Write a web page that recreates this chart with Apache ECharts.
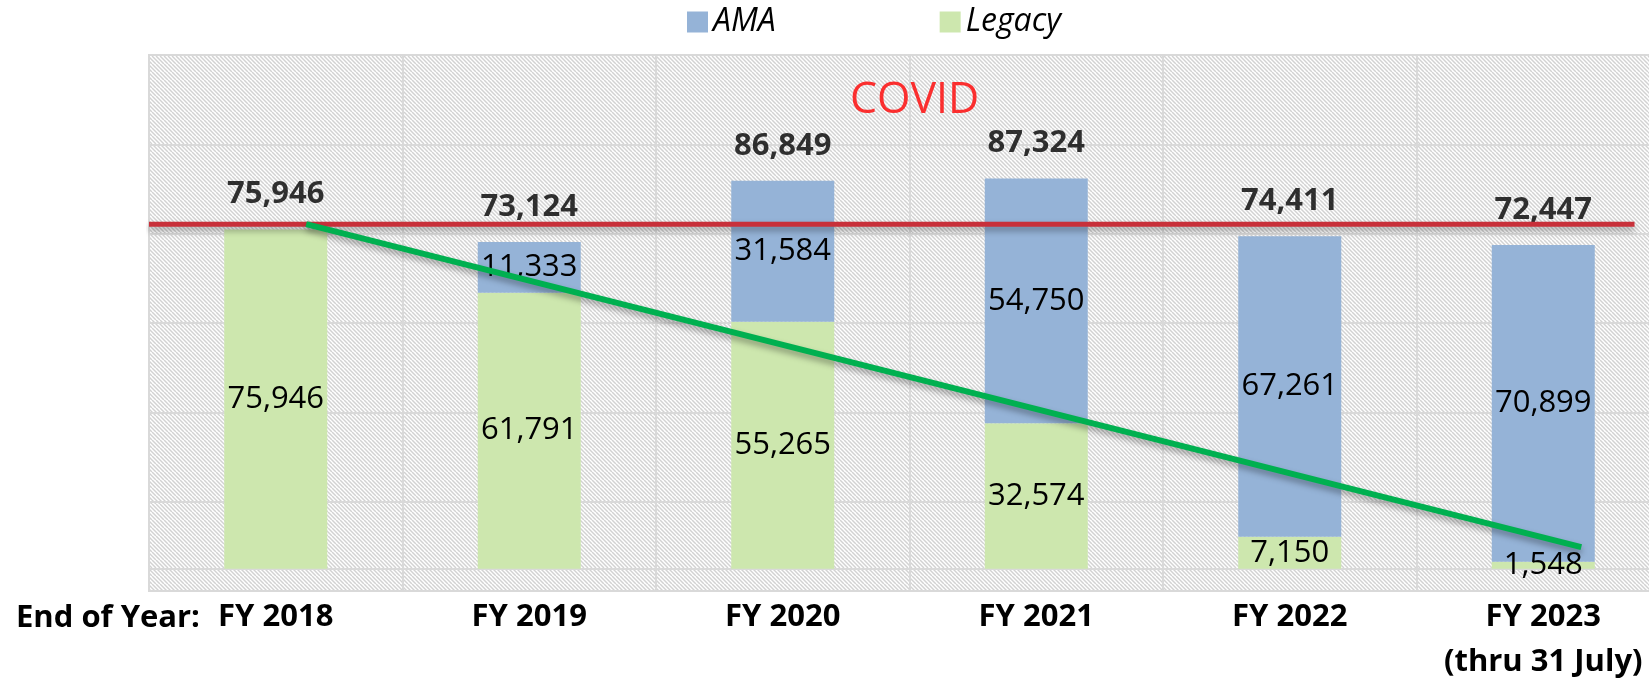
<!DOCTYPE html>
<html>
<head>
<meta charset="utf-8">
<script src="https://cdn.jsdelivr.net/npm/echarts@6/dist/echarts.min.js"></script>
<style>
  html, body { margin: 0; padding: 0; background: #ffffff; overflow: hidden; }
  /* the plot runs past the right edge of the picture, as in the original */
  #chart { width: 1670px; height: 682px; }
</style>
</head>
<body>
<div id="chart"></div>
<script>
const years = ['FY 2018', 'FY 2019', 'FY 2020', 'FY 2021', 'FY 2022', 'FY 2023\n(thru 31 July)'];
const legacy = [75946, 61791, 55265, 32574, 7150, 1548];
const ama = [0, 11333, 31584, 54750, 67261, 70899];
const totals = legacy.map((v, i) => v + ama[i]);
// reference level (red) and the drawn trend (green), on a 0..5 category scale
const covidLevel = [[-0.5, 77100], [5.36, 77100]];
const trend = [[0.12, 77140], [5.15, 4830]];
const covidNote = [[2.52, 104800]];

// diagonal hatch for the plot background
function hatch() {
  const c = document.createElement('canvas');
  c.width = 8; c.height = 8;
  const g = c.getContext('2d');
  g.fillStyle = '#ffffff';
  g.fillRect(0, 0, 8, 8);
  g.strokeStyle = '#d2d2d2';
  g.lineWidth = 1.5;
  for (let k = -8; k <= 8; k += 4) {
    g.beginPath();
    g.moveTo(k, 0);
    g.lineTo(k + 8, 8);
    g.stroke();
  }
  return c;
}

const font = "'Open Sans', 'Noto Sans', sans-serif";
const chart = echarts.init(document.getElementById('chart'), null, { renderer: 'canvas' });

chart.setOption({
  animation: false,
  title: {
    text: 'End of Year:',
    left: 16,
    top: 603,
    padding: 0,
    textStyle: { fontFamily: font, fontSize: 31, fontWeight: 'bold', color: '#000' }
  },
  legend: {
    data: ['AMA', 'Legacy'],
    left: 682,
    top: 1,
    icon: 'rect',
    itemWidth: 21,
    itemHeight: 21,
    itemGap: 164,
    textStyle: { fontFamily: font, fontSize: 32, fontStyle: 'italic', color: '#000' }
  },
  grid: {
    left: 149,
    right: 0,
    top: 55,
    bottom: 91,
    outerBoundsMode: 'none',
    show: true,
    backgroundColor: { image: hatch(), repeat: 'repeat' },
    borderColor: '#d9d9d9',
    borderWidth: 2
  },
  xAxis: [
    {
      type: 'category',
      data: years,
      axisTick: { show: false },
      axisLine: { onZero: false, lineStyle: { color: '#d9d9d9', width: 2 } },
      splitLine: { show: true, lineStyle: { color: '#d9d9d9', width: 2 } },
      axisLabel: {
        interval: 0,
        margin: 4,
        fontFamily: font,
        fontSize: 31,
        fontWeight: 'bold',
        color: '#000',
        lineHeight: 45
      }
    },
    { type: 'value', min: -0.5, max: 5.5, show: false }
  ],
  yAxis: {
    type: 'value',
    min: -5000,
    max: 115000,
    interval: 20000,
    axisLabel: { show: false },
    axisLine: { show: false },
    axisTick: { show: false },
    splitLine: { lineStyle: { color: '#d9d9d9', width: 2 } }
  },
  series: [
    {
      name: 'Legacy',
      type: 'bar',
      stack: 'total',
      barWidth: 103,
      data: legacy,
      itemStyle: { color: '#cde7ae' },
      label: {
        show: true,
        position: 'inside',
        fontFamily: font,
        fontSize: 31,
        color: '#000',
        formatter: p => p.value.toLocaleString('en-US')
      },
      markLine: {
        silent: true,
        symbol: 'none',
        label: { show: false },
        lineStyle: { color: '#d9d9d9', width: 2, type: 'solid' },
        data: [{ yAxis: 0 }],
        z: 1
      }
    },
    {
      name: 'AMA',
      type: 'bar',
      stack: 'total',
      barWidth: 103,
      data: ama,
      itemStyle: { color: '#95b3d7' },
      label: {
        show: true,
        position: 'inside',
        fontFamily: font,
        fontSize: 31,
        color: '#000',
        formatter: p => (p.value ? p.value.toLocaleString('en-US') : '')
      }
    },
    {
      name: 'totals',
      type: 'scatter',
      data: totals,
      symbolSize: 1,
      itemStyle: { color: 'rgba(0,0,0,0)' },
      label: {
        show: true,
        position: 'top',
        distance: 19,
        fontFamily: font,
        fontSize: 31,
        fontWeight: 'bold',
        color: '#000',
        formatter: p => p.value.toLocaleString('en-US')
      },
      z: 5
    },
    {
      name: 'covidLine',
      type: 'line',
      xAxisIndex: 1,
      data: covidLevel,
      symbol: 'none',
      lineStyle: {
        color: '#c8303a',
        width: 5,
        shadowColor: 'rgba(0,0,0,0.35)',
        shadowBlur: 6,
        shadowOffsetY: 4
      },
      z: 6
    },
    {
      name: 'trend',
      type: 'line',
      xAxisIndex: 1,
      data: trend,
      symbol: 'none',
      lineStyle: {
        color: '#00b050',
        width: 6,
        shadowColor: 'rgba(0,0,0,0.35)',
        shadowBlur: 6,
        shadowOffsetY: 4
      },
      z: 7
    },
    {
      name: 'covid',
      type: 'scatter',
      xAxisIndex: 1,
      data: covidNote,
      symbolSize: 1,
      itemStyle: { color: 'rgba(0,0,0,0)' },
      label: {
        show: true,
        position: 'inside',
        formatter: 'COVID',
        fontFamily: font,
        fontSize: 43,
        color: '#ff0000'
      }
    }
  ]
});
</script>
</body>
</html>
